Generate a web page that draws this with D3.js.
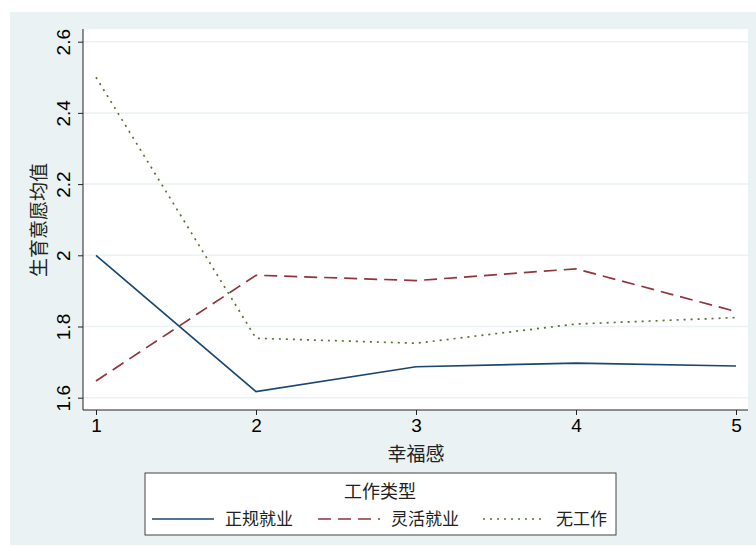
<!DOCTYPE html>
<html>
<head>
<meta charset="utf-8">
<script src="https://cdn.jsdelivr.net/npm/d3@7"></script>
<style>
  body { margin: 0; background: #fff; }
  text { font-family: "Liberation Sans", Arial, sans-serif; fill: #000; }
  .cjk { font-family: "Noto Sans CJK SC", sans-serif; fill: #222; }
</style>
</head>
<body>
<div id="chart"></div>
<script>
// chart size, same as the window
const width = 756;
const height = 546;
const margin = {left: 83, right: 8, top: 29, bottom: 136};

// data
const happiness = [1, 2, 3, 4, 5];
const regularJob = [2.0, 1.617, 1.687, 1.697, 1.689];
const flexibleJob = [1.647, 1.944, 1.929, 1.962, 1.842];
const noJob = [2.5, 1.767, 1.753, 1.807, 1.825];
const yTicks = [1.6, 1.8, 2, 2.2, 2.4, 2.6];
const seriesNames = ["正规就业", "灵活就业", "无工作"];

const series = [
  {name: seriesNames[0], values: regularJob, color: "#1a476f", dash: null},
  {name: seriesNames[1], values: flexibleJob, color: "#90353b", dash: "13,7"},
  {name: seriesNames[2], values: noJob, color: "#55752f", dash: "2,5"}
];

const svg = d3.select("#chart")
  .append("svg")
  .attr("width", width)
  .attr("height", height);

// stata style grey-blue background and white plot region
svg.append("rect")
  .attr("x", 10).attr("y", 12)
  .attr("width", width - 10).attr("height", 533)
  .attr("fill", "#eaf2f3");

svg.append("rect")
  .attr("x", margin.left).attr("y", margin.top)
  .attr("width", width - margin.right - margin.left)
  .attr("height", height - margin.bottom - margin.top)
  .attr("fill", "#fff");

// scales
let xScale = d3.scaleLinear()
  .domain([1, 5])
  .range([96, 736]);

let yScale = d3.scaleLinear()
  .domain([1.6, 2.6])
  .range([397.7, 41.7]);

// grid lines
svg.append("g")
  .selectAll("line")
  .data(yTicks)
  .enter()
  .append("line")
    .attr("x1", margin.left)
    .attr("x2", width - margin.right)
    .attr("y1", d => yScale(d))
    .attr("y2", d => yScale(d))
    .attr("stroke", "#eaf2f3")
    .attr("stroke-width", 1.5);

// axes
const yAxis = svg.append("g")
  .attr("transform", `translate(${margin.left}, 0)`)
  .call(d3.axisLeft(yScale).tickValues(yTicks).tickSize(5).tickFormat(d3.format("")));
yAxis.select(".domain").attr("d", `M0,${margin.top}V${height - margin.bottom}`);
// rotated tick labels, reading bottom to top
yAxis.selectAll(".tick text")
  .attr("font-size", "19px")
  .attr("text-anchor", "middle")
  .attr("x", 0).attr("y", 0).attr("dy", "0")
  .attr("transform", "translate(-13,0) rotate(-90)");

const xAxis = svg.append("g")
  .attr("transform", `translate(0,${height - margin.bottom})`)
  .call(d3.axisBottom(xScale).tickValues(happiness).tickSize(5).tickPadding(4).tickFormat(d3.format("d")));
xAxis.select(".domain").attr("d", `M${margin.left},0H${width - margin.right}`);
xAxis.selectAll(".tick text").attr("font-size", "19px");
svg.selectAll(".domain, .tick line").attr("stroke", "#222");

// axis titles
svg.append("text")
  .attr("class", "cjk")
  .attr("transform", "translate(46,220) rotate(-90)")
  .attr("text-anchor", "middle")
  .attr("font-size", "19px")
  .text("生育意愿均值");

svg.append("text")
  .attr("class", "cjk")
  .attr("x", 416).attr("y", 461)
  .attr("text-anchor", "middle")
  .attr("font-size", "19px")
  .text("幸福感");

// lines
const line = d3.line()
  .x((d, i) => xScale(happiness[i]))
  .y(d => yScale(d));

svg.selectAll(".series")
  .data(series)
  .enter()
  .append("path")
    .attr("class", "series")
    .attr("d", d => line(d.values))
    .attr("fill", "none")
    .attr("stroke", d => d.color)
    .attr("stroke-width", 1.7)
    .attr("stroke-dasharray", d => d.dash);

// legend
const legend = svg.append("g");
legend.append("rect")
  .attr("x", 145).attr("y", 473)
  .attr("width", 471).attr("height", 62)
  .attr("fill", "#fff")
  .attr("stroke", "#444")
  .attr("stroke-width", 1);

legend.append("text")
  .attr("class", "cjk")
  .attr("x", 380).attr("y", 498)
  .attr("text-anchor", "middle")
  .attr("font-size", "18px")
  .text("工作类型");

const legendX = [152, 318, 483];
const item = legend.selectAll(".item")
  .data(series)
  .enter()
  .append("g")
    .attr("class", "item")
    .attr("transform", (d, i) => `translate(${legendX[i]},519)`);

item.append("line")
  .attr("x1", 0).attr("x2", 62)
  .attr("stroke", d => d.color)
  .attr("stroke-width", 1.7)
  .attr("stroke-dasharray", d => d.dash);

item.append("text")
  .attr("class", "cjk")
  .attr("x", 73).attr("y", 6)
  .attr("font-size", "17px")
  .text(d => d.name);
</script>
</body>
</html>
